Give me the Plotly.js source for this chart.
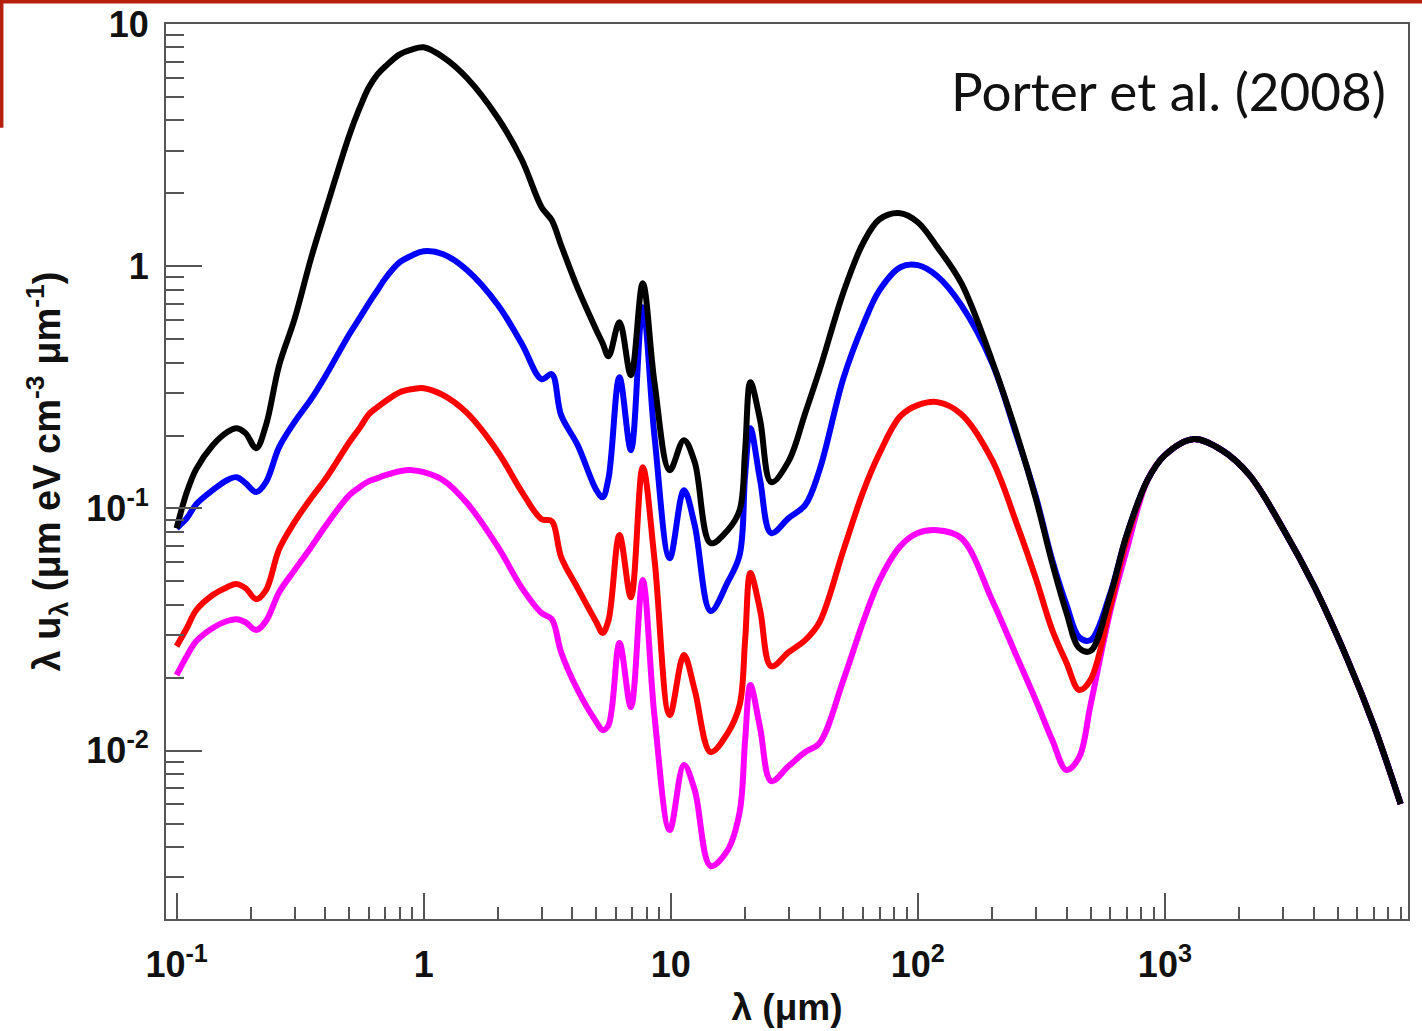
<!DOCTYPE html>
<html>
<head>
<meta charset="utf-8">
<script src="https://cdn.plot.ly/plotly-3.0.1.min.js"></script>
<style>html,body{margin:0;padding:0;background:#fff;}#chart{width:1422px;height:1031px;}</style>
</head>
<body>
<div id="chart"></div>
<script>
// Wavelength grid (μm)
var wavelength = [0.1, 0.11, 0.12, 0.14, 0.16, 0.175, 0.19, 0.21, 0.23, 0.26,
  0.3, 0.35, 0.4, 0.5, 0.55, 0.6, 0.65, 0.7, 0.8, 0.9, 1.0, 1.2,
  1.5, 2, 2.5, 3, 3.3, 3.6, 4.2, 5, 5.3, 5.6,
  6.2, 6.9, 7.7, 8.6, 9.9, 11.3, 12.5, 14.5, 17, 19,
  20, 21, 23, 25.5, 30, 35, 40, 50, 60, 70,
  85, 100, 120, 150, 200, 250, 300, 350, 400, 450,
  500, 600, 700, 850, 1000, 1300, 1700, 2200, 3000, 4000,
  5500, 7000, 9000];

// λ u_λ (μm eV cm^-3 μm^-1)
var blackSeries = [0.0829, 0.1168, 0.1453, 0.1825, 0.2065, 0.2145, 0.2046, 0.1773, 0.2207, 0.3903,
  0.6043, 1.079, 1.687, 3.472, 4.49, 5.479, 6.20, 6.690, 7.497, 7.862, 8.012, 7.288,
  5.970, 4.081, 2.738, 1.752, 1.548, 1.221, 0.8113, 0.5443, 0.4812, 0.4251,
  0.5873, 0.3549, 0.8507, 0.329, 0.1439, 0.1913, 0.1553, 0.0719, 0.0813, 0.0984,
  0.1740, 0.3320, 0.2314, 0.1284, 0.1568, 0.2473, 0.3722, 0.7810, 1.244, 1.563,
  1.655, 1.519, 1.198, 0.8507, 0.4055, 0.2065, 0.1103, 0.0594, 0.0370, 0.0265,
  0.0258, 0.0435, 0.0776, 0.1308, 0.1660, 0.1932, 0.1740, 0.1372, 0.0829, 0.0482,
  0.0236, 0.01275, 0.00602];

var blueSeries = [0.0829, 0.0912, 0.1041, 0.1190, 0.1308, 0.1346, 0.1272, 0.1168, 0.1284, 0.1791,
  0.2271, 0.2826, 0.3516, 0.5240, 0.610, 0.7037, 0.796, 0.8922, 1.039, 1.110, 1.153, 1.121,
  0.9627, 0.6905, 0.4765, 0.3418, 0.3583, 0.2427, 0.1825, 0.1190, 0.1113, 0.1334,
  0.3483, 0.1740, 0.6773, 0.197, 0.0623, 0.1190, 0.0853, 0.0377, 0.0496, 0.0642,
  0.1372, 0.2145, 0.1308, 0.0791, 0.0912, 0.1032, 0.1439, 0.3449, 0.5708, 0.7963,
  0.9905, 1.010, 0.9094, 0.6905, 0.3978, 0.2026, 0.1124, 0.0612, 0.0399, 0.0294,
  0.0286, 0.0443, 0.0776, 0.1308, 0.1660, 0.1932, 0.1740, 0.1372, 0.0829, 0.0482,
  0.0236, 0.01275, 0.00602];

var redSeries = [0.0270, 0.0321, 0.0380, 0.0439, 0.0473, 0.0487, 0.0469, 0.0422, 0.0460, 0.0679,
  0.0878, 0.1103, 0.1321, 0.1877, 0.2145, 0.2450, 0.2619, 0.2772, 0.3020, 0.3108, 0.3137, 0.2935,
  0.2473, 0.1707, 0.1168, 0.0903, 0.0886, 0.0630, 0.0469, 0.0339, 0.0306, 0.0346,
  0.0776, 0.0430, 0.1481, 0.0612, 0.01402, 0.0248, 0.0178, 0.00987, 0.01182, 0.01543,
  0.0286, 0.0541, 0.0380, 0.0223, 0.0255, 0.0286, 0.0339, 0.0673, 0.1168, 0.1691,
  0.2404, 0.2669, 0.2747, 0.2450, 0.1582, 0.0878, 0.0516, 0.0315, 0.0230, 0.0178,
  0.0196, 0.0391, 0.0740, 0.1308, 0.1660, 0.1932, 0.1740, 0.1372, 0.0829, 0.0482,
  0.0236, 0.01275, 0.00602];

var magentaSeries = [0.0205, 0.0246, 0.0283, 0.0321, 0.0343, 0.0349, 0.0339, 0.0315, 0.0343, 0.0451,
  0.0556, 0.0692, 0.0845, 0.1135, 0.1224, 0.1296, 0.1334, 0.1372, 0.1425, 0.1439, 0.1412, 0.1308,
  0.1051, 0.0692, 0.0469, 0.0370, 0.0349, 0.0255, 0.0178, 0.01312, 0.01216, 0.01275,
  0.0278, 0.01513, 0.0506, 0.01376, 0.00470, 0.00872, 0.00688, 0.00334, 0.00389, 0.00558,
  0.01106, 0.01865, 0.01240, 0.00749, 0.00864, 0.00987, 0.01075, 0.0196, 0.0339, 0.0506,
  0.0699, 0.0791, 0.0813, 0.0754, 0.0418, 0.0248, 0.01618, 0.01106, 0.00832, 0.00941,
  0.01543, 0.0373, 0.0673, 0.1308, 0.1660, 0.1932, 0.1740, 0.1372, 0.0829, 0.0482,
  0.0236, 0.01275, 0.00602];

// Tick labels
var xTickVals = [0.1, 1, 10, 100, 1000];
var xTickText = ['10<sup>-1</sup>', '1', '10', '10<sup>2</sup>', '10<sup>3</sup>'];
var yTickVals = [0.01, 0.1, 1, 10];
var yTickText = ['10<sup>-2</sup>', '10<sup>-1</sup>', '1', '10'];

function minorVals(kFrom, kTo) {
  var out = [];
  for (var k = kFrom; k <= kTo; k++) {
    for (var m = 2; m <= 9; m++) out.push(m * Math.pow(10, k));
  }
  return out;
}

var lineW = 6;
function trace(y, color) {
  return {x: wavelength, y: y, type: 'scatter', mode: 'lines',
    line: {color: color, width: lineW, shape: 'spline', smoothing: 1.0},
    hoverinfo: 'skip'};
}

var data = [
  trace(magentaSeries, '#FF00FF'),
  trace(redSeries, '#FF0000'),
  trace(blueSeries, '#0000FF'),
  trace(blackSeries, '#000000')
];

var axisCommon = {
  type: 'log', showgrid: false, zeroline: false,
  showline: true, linecolor: '#555', linewidth: 2, mirror: true,
  ticks: 'inside', tickwidth: 2, tickcolor: '#555',
  tickmode: 'array',
  tickfont: {family: 'Liberation Sans, Arial, sans-serif', size: 36, weight: 'bold', color: '#111'}
};

var layout = {
  width: 1422, height: 1031,
  margin: {l: 166, r: 14, t: 24, b: 112},
  paper_bgcolor: '#ffffff', plot_bgcolor: '#ffffff',
  showlegend: false,
  font: {family: 'Liberation Sans, Arial, sans-serif', color: '#111'},
  xaxis: Object.assign({}, axisCommon, {
    range: [-1.043, 3.984],
    ticklen: 26,
    tickvals: xTickVals, ticktext: xTickText,
    ticklabelstandoff: 13,
    minor: {ticks: 'inside', ticklen: 12, tickwidth: 2, tickcolor: '#555', tickmode: 'array', tickvals: minorVals(-1, 3)},
    title: {text: 'λ (μm)', font: {size: 37, weight: 'bold', color: '#111'}, standoff: 10}
  }),
  yaxis: Object.assign({}, axisCommon, {
    range: [-2.695, 1.0],
    ticklen: 36,
    tickvals: yTickVals, ticktext: yTickText,
    ticklabelstandoff: 8,
    minor: {ticks: 'inside', ticklen: 18, tickwidth: 2, tickcolor: '#555', tickmode: 'array', tickvals: minorVals(-3, 0)},
    title: {text: 'λ u<sub>λ</sub> (μm eV cm<sup>-3</sup> μm<sup>-1</sup>)', font: {size: 38, weight: 'bold', color: '#111'}, standoff: 14}
  }),
  annotations: [{
    text: 'Porter et al. (2008)', xref: 'paper', yref: 'paper',
    x: 0.984, y: 0.926, xanchor: 'right', yanchor: 'middle', showarrow: false,
    font: {family: 'Lato, Open Sans, sans-serif', size: 53, color: '#111'}
  }],
  shapes: [
    {type: 'line', xref: 'paper', yref: 'paper', x0: -0.134, x1: 1.012, y0: 1.0251, y1: 1.0251,
      line: {color: '#B51F0E', width: 4}},
    {type: 'line', xref: 'paper', yref: 'paper', x0: -0.1325, x1: -0.1325, y0: 1.027, y1: 0.884,
      line: {color: '#B51F0E', width: 4}}
  ]
};

Plotly.newPlot('chart', data, layout, {staticPlot: true, displayModeBar: false});
</script>
</body>
</html>
